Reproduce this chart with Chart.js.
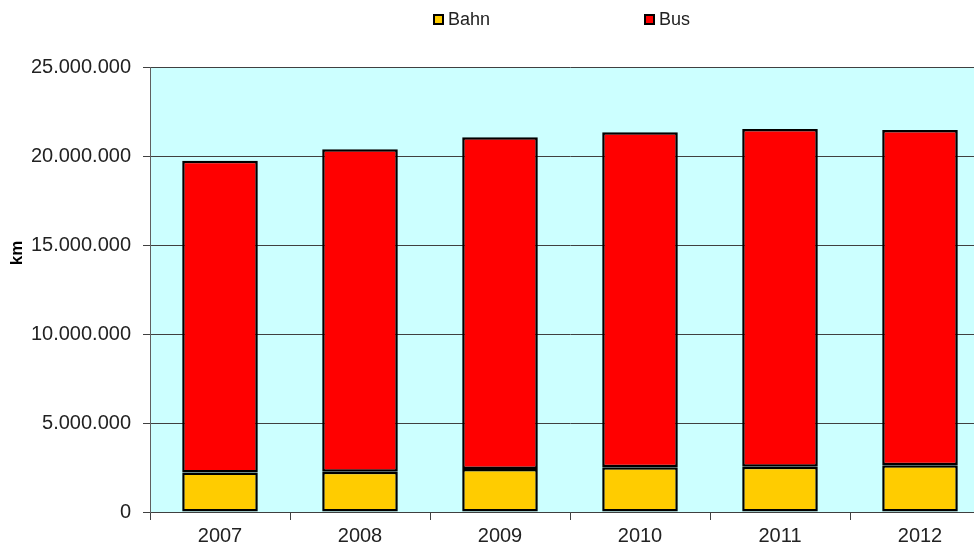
<!DOCTYPE html>
<html>
<head>
<meta charset="utf-8">
<script src="https://cdn.jsdelivr.net/npm/chart.js@4/dist/chart.umd.min.js"></script>
<style>
    html, body { margin: 0; padding: 0; background: #ffffff; overflow: hidden; }
    #wrap { position: absolute; left: 0; top: 0; width: 1000px; height: 560px; }
</style>
</head>
<body>
<div id="wrap"><canvas id="chart"></canvas></div>
<script>
const years = ["2007", "2008", "2009", "2010", "2011", "2012"];
const bahn = [2220000, 2260000, 2410000, 2510000, 2540000, 2620000];
const bus = [17520000, 18120000, 18640000, 18820000, 18980000, 18840000];
const yTicks = [0, 5000000, 10000000, 15000000, 20000000, 25000000];

const bahnColour = "#ffcc00";
const busColour = "#ff0000";
const plotBg = "#ccffff";
const gridColour = "#404040";
const font = "'Liberation Sans', Arial, sans-serif";

// dots as thousands separator, like 25.000.000
const fmt = v => String(v).replace(/\B(?=(\d{3})+(?!\d))/g, ".");

const plotBackground = {
    id: "plotBackground",
    beforeDraw: chart => {
        const {ctx, chartArea: a} = chart;
        ctx.save();
        ctx.fillStyle = plotBg;
        ctx.fillRect(a.left, a.top, a.right - a.left, a.bottom - a.top);
        ctx.restore();
    }
};

// legend and axis title placed like the original, off the plot centre
const extras = {
    id: "extras",
    afterDraw: chart => {
        const ctx = chart.ctx;
        ctx.save();
        ctx.font = `18px ${font}`;
        ctx.textBaseline = "middle";
        chart.data.datasets.forEach((ds, i) => {
            const x = 433 + i * 211;
            ctx.fillStyle = ds.backgroundColor;
            ctx.fillRect(x, 14, 11, 11);
            ctx.lineWidth = 2;
            ctx.strokeStyle = "#000";
            ctx.strokeRect(x + 1, 15, 9, 9);
            ctx.fillStyle = "#222";
            ctx.fillText(ds.label, x + 15, 20);
        });

        ctx.translate(17, 253);
        ctx.rotate(-Math.PI / 2);
        ctx.font = `bold 17px ${font}`;
        ctx.textAlign = "center";
        ctx.textBaseline = "middle";
        ctx.fillStyle = "#000";
        ctx.fillText("km", 0, 0);
        ctx.restore();
    }
};

const data = {
    labels: years,
    datasets: [{
        label: "Bahn",
        data: bahn,
        backgroundColor: bahnColour,
        borderColor: "#000",
        borderWidth: 2.5,
        borderSkipped: false
    }, {
        label: "Bus",
        data: bus,
        backgroundColor: busColour,
        borderColor: "#000",
        borderWidth: 2.5,
        borderSkipped: false
    }]
};

const config = {
    type: "bar",
    data: data,
    options: {
        responsive: true,
        maintainAspectRatio: false,
        animation: false,
        datasets: {
            bar: {barPercentage: 0.54, categoryPercentage: 1}
        },
        layout: {
            padding: {top: 67, right: 10, bottom: 8, left: 0}
        },
        plugins: {
            legend: {display: false},
            tooltip: {enabled: false}
        },
        scales: {
            x: {
                stacked: true,
                afterFit: s => { s.height = 40; },
                grid: {
                    drawOnChartArea: false,
                    drawTicks: true,
                    tickLength: 8,
                    color: gridColour
                },
                border: {color: gridColour, width: 1},
                ticks: {
                    color: "#222",
                    padding: 4,
                    font: {family: font, size: 20}
                }
            },
            y: {
                stacked: true,
                min: 0,
                max: 25000000,
                afterFit: s => { s.width = 150; },
                afterBuildTicks: s => { s.ticks = yTicks.map(v => ({value: v})); },
                grid: {
                    color: gridColour,
                    lineWidth: 1,
                    tickLength: 7
                },
                border: {color: "#606060", width: 1},
                ticks: {
                    color: "#222",
                    padding: 12,
                    font: {family: font, size: 20},
                    callback: v => fmt(v)
                }
            }
        }
    },
    plugins: [plotBackground, extras]
};

new Chart(document.getElementById("chart"), config);
</script>
</body>
</html>
